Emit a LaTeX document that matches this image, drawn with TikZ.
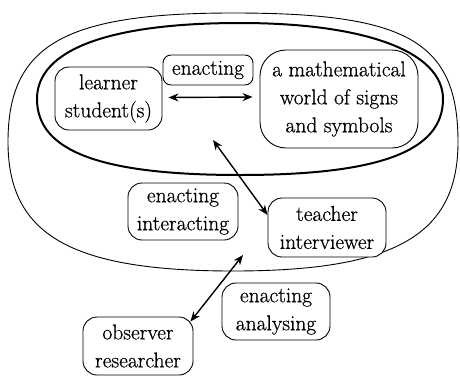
\documentclass[tikz,border=0pt]{standalone}
\usepackage{fontspec}
\newfontfamily\boxfont{Latin Modern Roman}[FakeBold=0.6]
\usetikzlibrary{arrows.meta}
\begin{document}
\begin{tikzpicture}[x=1pt,y=-1pt,
  box/.style={draw, fill=white, rounded corners=14pt, align=center, inner xsep=2pt, inner ysep=3pt,
    line width=0.9pt, font=\boxfont\fontsize{21.5}{28}\selectfont},
  arr/.style={{Stealth[length=10pt,width=8pt]}-{Stealth[length=10pt,width=8pt]}, line width=1.4pt},
  outerline/.style={line width=0.9pt},
  innerline/.style={line width=2pt}]
\useasboundingbox (0,0) rectangle (460,375);
% outer thin closed curve
\draw[outerline] (458,142) .. controls (458,40) and (405,13) .. (233,13)
  .. controls (64,13) and (8,45) .. (8,142)
  .. controls (8,235) and (71,271) .. (233,271)
  .. controls (395,271) and (458,235) .. (458,142) -- cycle;
% inner thick closed curve
\draw[innerline] (443,99) .. controls (443,52) and (366,23) .. (240,23)
  .. controls (108,23) and (37,50) .. (37,99)
  .. controls (37,151) and (100,175) .. (240,175)
  .. controls (380,175) and (443,151) .. (443,99) -- cycle;
% nodes
\node[box, minimum width=107pt, minimum height=63pt] (learner) at (108.5,98.5) {learner\\student(s)};
\node[box, minimum width=90pt, minimum height=30pt, rounded corners=8pt] (enact) at (208,70) {enacting};
\node[box, minimum width=158pt, minimum height=98pt, rounded corners=26pt] (world) at (339,99) {a mathematical\\world of signs\\and symbols};
\node[box, minimum width=110pt, minimum height=57pt] (interact) at (183,211.5) {enacting\\interacting};
\node[box, minimum width=118pt, minimum height=59pt] (teacher) at (327,227.5) {teacher\\interviewer};
\node[box, minimum width=108pt, minimum height=57pt] (analyse) at (276,311.5) {enacting\\analysing};
\node[box, minimum width=110pt, minimum height=58pt] (observer) at (138,346) {observer\\researcher};
% free ends
\coordinate (p1) at (213,140);
\coordinate (p2) at (243,255);
% connectors
\draw[arr] ([xshift=6pt,yshift=1pt]learner.east) -- ([xshift=-7pt,yshift=2pt]world.west);
\draw[arr] (p1) -- ([yshift=12.5pt]teacher.west);
\draw[arr] (p2) -- ([xshift=-3pt,yshift=-5pt]observer.north east);
\end{tikzpicture}
\end{document}
